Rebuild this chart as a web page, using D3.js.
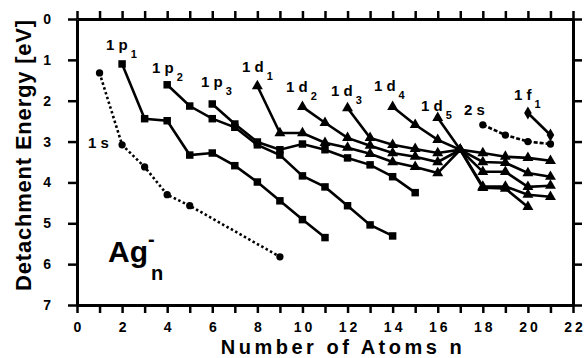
<!DOCTYPE html>
<html>
<head>
<meta charset="utf-8">
<script src="https://cdn.jsdelivr.net/npm/d3@7"></script>
<style>
  body { margin: 0; background: #fff; }
  svg { display: block; }
  text { font-family: "Liberation Sans", Arial, Helvetica, sans-serif; font-weight: bold; fill: #000; }
</style>
</head>
<body>
<div id="chart"></div>
<script>
// each level: [number of atoms n, detachment energy in eV]
const level1s  = [[1, 1.32], [2, 3.08], [3, 3.62], [4, 4.30], [5, 4.57], [9, 5.82]];
const level1p1 = [[2, 1.10], [3, 2.44], [4, 2.49], [5, 3.33], [6, 3.28], [7, 3.59], [8, 3.99], [9, 4.45], [10, 4.91], [11, 5.35]];
const level1p2 = [[4, 1.61], [5, 2.13], [6, 2.44], [7, 2.65], [8, 3.08], [9, 3.33], [10, 3.84], [11, 4.11], [12, 4.57], [13, 5.04], [14, 5.31]];
const level1p3 = [[6, 2.08], [7, 2.57], [8, 3.01], [9, 3.20], [10, 3.06], [11, 3.20], [12, 3.40], [13, 3.57], [14, 3.86], [15, 4.25]];
const level1d1 = [[8, 1.64], [9, 2.79], [10, 2.79], [11, 3.03], [12, 3.15], [13, 3.30], [14, 3.50], [15, 3.62], [16, 3.77], [17, 3.20], [18, 3.28], [19, 3.37], [20, 3.40], [21, 3.47]];
const level1d2 = [[10, 2.15], [11, 2.54], [12, 2.91], [13, 3.10], [14, 3.28], [15, 3.37], [16, 3.50], [17, 3.20], [18, 3.50], [19, 3.52], [20, 3.77], [21, 3.86]];
const level1d3 = [[12, 2.18], [13, 2.91], [14, 3.08], [15, 3.18], [16, 3.28], [17, 3.20], [18, 3.74], [19, 3.74], [20, 4.11], [21, 4.08]];
const level1d4 = [[14, 2.15], [15, 2.59], [16, 2.96], [17, 3.20], [18, 4.10], [19, 4.10], [20, 4.30], [21, 4.35]];
const level1d5 = [[16, 2.42], [17, 3.20], [18, 4.13], [19, 4.15], [20, 4.60]];
const level2s  = [[18, 2.59], [19, 2.84], [20, 3.00], [21, 3.06]];
const level1f1 = [[20, 2.30], [21, 2.84]];

const xTicks = d3.range(0, 23);
const yTicks = d3.range(0, 8);

const series = [
  { pts: level1s,  mark: 'circle',   dash: '2.5,2.5' },
  { pts: level1p1, mark: 'square',   dash: null },
  { pts: level1p2, mark: 'square',   dash: null },
  { pts: level1p3, mark: 'square',   dash: null },
  { pts: level1d1, mark: 'triangle', dash: null },
  { pts: level1d2, mark: 'triangle', dash: null },
  { pts: level1d3, mark: 'triangle', dash: null },
  { pts: level1d4, mark: 'triangle', dash: null },
  { pts: level1d5, mark: 'triangle', dash: null },
  { pts: level2s,  mark: 'circle',   dash: '4,2' },
  { pts: level1f1, mark: 'diamond',  dash: null }
];

// level names, anchored in data units (n, eV)
const labels = [
  { main: '1 s', sub: '',  at: [0.49, 3.16] },
  { main: '1 p', sub: '1', at: [1.29, 0.76] },
  { main: '1 p', sub: '2', at: [3.33, 1.32] },
  { main: '1 p', sub: '3', at: [5.50, 1.66] },
  { main: '1 d', sub: '1', at: [7.32, 1.30] },
  { main: '1 d', sub: '2', at: [9.27, 1.79] },
  { main: '1 d', sub: '3', at: [11.27, 1.88] },
  { main: '1 d', sub: '4', at: [13.17, 1.76] },
  { main: '1 d', sub: '5', at: [15.26, 2.25] },
  { main: '2 s', sub: '',  at: [17.17, 2.35] },
  { main: '1 f', sub: '1', at: [19.38, 1.98] }
];

const W = 587, H = 358;
const margin = { top: 19, right: 14, bottom: 53, left: 77 };
const width = W - margin.left - margin.right;
const height = H - margin.top - margin.bottom;

const svg = d3.select('#chart').append('svg')
  .attr('width', W)
  .attr('height', H);

const g = svg.append('g')
  .attr('transform', `translate(${margin.left},${margin.top})`);

const x = d3.scaleLinear().domain([0, 22]).range([0, width]);
const y = d3.scaleLinear().domain([0, 7]).range([0, height]);

// axes on all four sides, ticks pointing outward
const styleAxis = sel => {
  sel.select('.domain').attr('stroke-width', 3).attr('stroke', '#000');
  sel.selectAll('.tick line').attr('stroke-width', 2.5).attr('stroke', '#000');
};

g.append('g')
  .attr('transform', `translate(0,${height})`)
  .call(d3.axisBottom(x).tickValues(xTicks).tickSize(8).tickSizeOuter(0).tickPadding(9)
    .tickFormat(d => d % 2 === 0 ? d : ''))
  .call(styleAxis)
  .call(a => a.selectAll('.tick text')
    .attr('font-size', 14).attr('letter-spacing', 3).attr('x', 1.5));

g.append('g')
  .call(d3.axisTop(x).tickValues(xTicks).tickSize(8).tickSizeOuter(0).tickFormat(''))
  .call(styleAxis);

g.append('g')
  .call(d3.axisLeft(y).tickValues(yTicks).tickSize(9).tickSizeOuter(0).tickPadding(17)
    .tickFormat(d3.format('d')))
  .call(styleAxis)
  .call(a => a.selectAll('.tick text').attr('font-size', 14));

g.append('g')
  .attr('transform', `translate(${width},0)`)
  .call(d3.axisRight(y).tickValues(yTicks).tickSize(9).tickSizeOuter(0).tickFormat(''))
  .call(styleAxis);

svg.selectAll('.domain').attr('fill', 'none');
svg.selectAll('.tick text').attr('font-family', null).attr('fill', '#000');

// lines
const line = d3.line().x(d => x(d[0])).y(d => y(d[1]));

g.selectAll('.level')
  .data(series)
  .enter().append('path')
  .attr('class', 'level')
  .attr('d', d => line(d.pts))
  .attr('fill', 'none')
  .attr('stroke', '#000')
  .attr('stroke-width', 2.6)
  .attr('stroke-dasharray', d => d.dash);

// markers
const symbols = {
  circle: d3.symbol().type(d3.symbolCircle).size(42),
  square: d3.symbol().type(d3.symbolSquare).size(56),
  triangle: d3.symbol().type(d3.symbolTriangle).size(52),
  diamond: d3.symbol().type(d3.symbolDiamond).size(50)
};

series.forEach(s => {
  g.append('g').selectAll('path')
    .data(s.pts)
    .enter().append('path')
    .attr('d', symbols[s.mark])
    .attr('transform', d => `translate(${x(d[0])},${y(d[1])})`)
    .attr('fill', '#000');
});

// level names
labels.forEach(l => {
  const t = g.append('text')
    .attr('x', x(l.at[0]))
    .attr('y', y(l.at[1]))
    .attr('font-size', 15)
    .text(l.main);
  if (l.sub) {
    t.append('tspan').attr('font-size', 11).attr('dx', 3).attr('dy', 8).text(l.sub);
  }
});

// Ag_n^- tag
const ag = [1.38, 5.95];
g.append('text')
  .attr('x', x(ag[0])).attr('y', y(ag[1]))
  .attr('font-size', 30)
  .text('Ag');
g.append('text')
  .attr('x', x(ag[0]) + 43).attr('y', y(ag[1]) + 18)
  .attr('font-size', 20)
  .text('n');
g.append('text')
  .attr('x', x(ag[0]) + 40).attr('y', y(ag[1]) - 16)
  .attr('font-size', 20)
  .text('-');

// axis titles
svg.append('text')
  .attr('x', 343)
  .attr('y', 354)
  .attr('text-anchor', 'middle')
  .attr('font-size', 20)
  .attr('letter-spacing', 3.5)
  .text('Number of Atoms n');

svg.append('text')
  .attr('transform', `translate(31,${margin.top + 136}) rotate(-90)`)
  .attr('text-anchor', 'middle')
  .attr('font-size', 22)
  .attr('letter-spacing', 0.8)
  .text('Detachment Energy [eV]');
</script>
</body>
</html>
